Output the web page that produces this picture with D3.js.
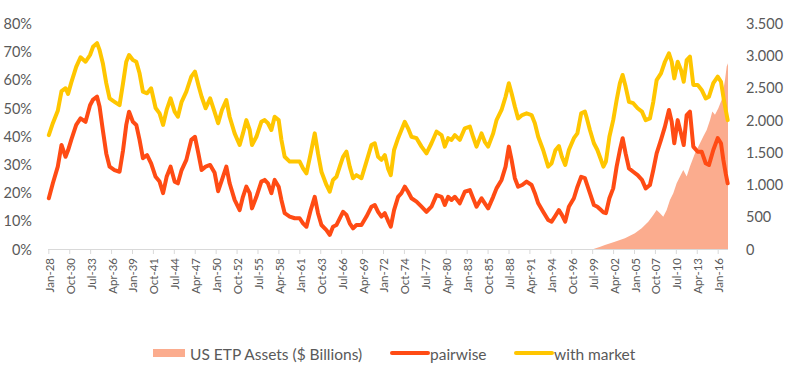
<!DOCTYPE html>
<html><head><meta charset="utf-8">
<script src="https://cdn.jsdelivr.net/npm/d3@7"></script>
<style>
body{margin:0;background:#fff;}
svg text{font-family:Lato,"Open Sans",sans-serif;fill:#595959;}
</style>
</head><body>
<svg id="chart" width="787" height="380"></svg>
<script>
// ---- data ----
const years = [1928.0,1928.53,1929.18,1929.67,1930.2,1930.53,1930.95,1931.6,1932.17,1932.83,
1933.42,1933.82,1934.34,1934.67,1935.1,1935.55,1935.99,1936.64,1937.3,1937.76,
1938.18,1938.55,1939.05,1939.5,1939.93,1940.37,1940.92,1941.45,1942.04,1942.56,
1943.02,1943.49,1944.01,1944.54,1944.97,1945.46,1946.08,1946.73,1947.21,1947.66,
1948.09,1948.62,1949.21,1949.8,1950.26,1950.76,1951.34,1951.77,1952.43,1953.09,
1953.52,1953.97,1954.41,1954.71,1955.29,1955.94,1956.38,1956.81,1957.26,1957.69,
1958.22,1958.58,1959.01,1959.67,1960.33,1960.98,1961.42,1961.87,1962.43,1962.96,
1963.39,1963.84,1964.5,1964.93,1965.36,1965.81,1966.25,1966.68,1967.13,1967.56,
1968.0,1968.44,1969.1,1969.76,1970.42,1970.85,1971.29,1971.73,1972.17,1972.6,
1972.96,1973.39,1973.92,1974.36,1974.8,1975.23,1975.68,1976.34,1977.0,1977.65,
1978.31,1978.97,1979.63,1980.06,1980.5,1980.94,1981.38,1982.03,1982.69,1983.35,
1983.78,1984.23,1984.89,1985.32,1985.76,1986.42,1986.86,1987.52,1988.05,1988.48,
1988.84,1989.27,1989.7,1990.23,1990.81,1991.47,1991.9,1992.34,1992.99,1993.65,
1994.1,1994.6,1995.06,1995.45,1995.89,1996.37,1997.03,1997.49,1997.99,1998.48,
1998.74,1999.14,1999.66,2000.12,2000.52,2000.91,2001.24,2001.7,2002.2,2002.65,
2003.08,2003.44,2003.83,2004.27,2004.83,2005.41,2005.98,2006.47,2007.03,2007.47,
2007.91,2008.48,2009.0,2009.53,2009.89,2010.23,2010.68,2011.11,2011.47,2011.86,
2012.29,2012.73,2013.31,2013.83,2014.36,2014.79,2015.36,2015.94,2016.37,2016.68,
2016.99,2017.25];

const withMarket = [40.4,44.6,49,56,57,55,59,64.6,68,66.4,
68.8,71.7,73,70.6,65.9,58.8,53.4,52.2,51,58.8,
66.4,68.8,67,66.4,62.3,55.8,55.2,57,50,48.1,
44,49.3,53.4,48.7,46.9,52.2,55.8,61.1,62.9,58.2,
54,49.9,53.4,48.5,44.6,49.3,52.8,46.9,41,36.9,
41,45.7,42.2,36.9,39.8,45.1,45.7,44.6,42.2,46.9,
45.7,38.7,32.7,31,31,31,28.6,26.8,33.9,41,
33.9,27.4,22.7,20.3,24.5,25.6,29.2,32.7,34.5,29.2,
25.1,26.2,25.1,31,36.9,37.5,32.7,31.6,33.3,28.5,
26.2,35.1,39.3,42.2,45.1,42.8,39.8,39.3,36.3,33.9,
37.5,41.6,40.4,36.3,39.3,38.7,40.4,38.7,42.8,43.4,
39.8,36.3,41,38,36.3,41,45.7,49.3,54,58.8,
55.2,50.5,46.3,47.5,48.1,47.5,44.6,39.8,35.1,29.2,
30.4,35,36.5,32.7,29.8,35.1,39.3,41,48.1,48.7,
46.3,42.2,37.5,35.1,32.2,29.2,31,39.8,45.7,52.8,
58.8,61.7,57.6,52.2,51.7,49.9,48.7,45.7,46.3,52.2,
59.9,62.3,66.4,69.4,66.4,60.5,66.4,63.5,59.3,67,
68.2,58.2,58.2,56.4,53.4,54,58.8,61.1,59.3,54,
49.3,45.7];

const pairwise = [18,23.3,29.2,36.9,32.7,35,38.7,44,46.3,45.1,
51,53,54,50.5,42.2,33.9,29.2,28,27.4,35,
44,48.7,45.1,44,38.7,32.2,33.3,30.4,25.6,23.9,
19.8,25.6,29.2,23.9,23.3,28,31.6,38.7,39.8,33.9,
28,29.2,29.8,27,20.5,24.5,29.2,23.3,17.4,13.8,
18.5,22.1,19.8,14.4,18.5,23.9,24.5,23.3,19.8,24.5,
22.1,17.4,12.7,11.5,10.9,10.9,9.1,7.9,13.8,18.5,
12.7,8.5,6.7,5,7.9,8.5,10.9,13.2,12.1,9.1,
7.3,8.5,8.5,11.5,15,15.6,13.2,11.5,12.7,10,
7.9,13.8,18.5,19.8,22.1,20.3,18,16.8,15,13.2,
15,19.1,18.5,15.6,18.5,17.4,18.5,16.2,20.3,20.9,
18,15,18,16.2,14.4,18.5,21.5,24.5,29.2,36.3,
31.6,25.1,22.1,22.7,23.9,22.7,19.8,16.2,13.2,10.3,
9.7,11.8,13.8,12.1,9.7,15,18,22,25.6,25.1,
23,19.8,15.6,15,14,13,12.7,18,21.5,29.2,
35.1,39.3,33.9,28.6,27.4,26.2,24.5,21.5,22.7,28,
33.9,38.7,43.4,49.3,45.1,37.5,45.7,41,36.9,47.5,
48.7,36.3,34.5,34.5,30.4,29.8,35.1,39.3,37.5,31.6,
26.8,23.3];

const etpYears = [1999.6,2000.5,2001.11,2002.42,2003.74,2005.05,2005.94,2006.81,2007.47,2007.91,
2008.35,2008.78,2009.23,2009.66,2010.1,2010.54,2010.98,2011.41,2011.86,2012.29,
2012.95,2013.61,2014.04,2014.49,2014.93,2015.23,2015.58,2016.02,2016.46,2016.9,
2017.12,2017.29];
const etpAssets = [0,35,62,113,166,243,321,424,528,606,
554,502,606,761,865,1020,1123,1227,1123,1278,
1486,1641,1744,1848,2003,2132,2081,2185,2314,2624,
2831,2883];

const xTickLabels = ["Jan-28","Oct-30","Jul-33","Apr-36","Jan-39","Oct-41","Jul-44","Apr-47",
"Jan-50","Oct-52","Jul-55","Apr-58","Jan-61","Oct-63","Jul-66","Apr-69","Jan-72","Oct-74",
"Jul-77","Apr-80","Jan-83","Oct-85","Jul-88","Apr-91","Jan-94","Oct-96","Jul-99","Apr-02",
"Jan-05","Oct-07","Jul-10","Apr-13","Jan-16"];
const leftTicks = [0,10,20,30,40,50,60,70,80];
const rightTicks = [0,500,1000,1500,2000,2500,3000,3500];
const legendLabels = ["US ETP Assets ($ Billions)","pairwise","with market"];

// ---- rendering ----
const svg = d3.select("#chart");
const C_AREA = "#FBAC8E", C_PAIR = "#FF4B14", C_MKT = "#FFC600", C_AXIS = "#D9D9D9";
const toMonth = y => (y - 1928) * 12;
const x = d3.scaleLinear().domain([-0.5, 1071.5]).range([48.5, 728]);
const yL = d3.scaleLinear().domain([0, 80]).range([249, 23.4]);
const yR = d3.scaleLinear().domain([0, 3500]).range([249, 23.4]);

const monthNames = ["Jan","Feb","Mar","Apr","May","Jun","Jul","Aug","Sep","Oct","Nov","Dec"];
const labelMonth = s => {
  const [m, yy] = s.split("-");
  const yr = +yy < 28 ? 2000 + +yy : 1900 + +yy;
  return (yr - 1928) * 12 + monthNames.indexOf(m);
};

// area (secondary axis)
const etp = etpYears.map((t, i) => ({t, v: etpAssets[i]}));
svg.append("path").datum(etp)
  .attr("fill", C_AREA)
  .attr("d", d3.area().x(d => x(toMonth(d.t))).y0(yR(0)).y1(d => yR(d.v)));

// x axis
const xa = svg.append("g");
xa.append("line").attr("x1", 48).attr("x2", 728).attr("y1", 249.5).attr("y2", 249.5)
  .attr("stroke", C_AXIS).attr("stroke-width", 1);
xTickLabels.forEach(lbl => {
  const px = x(labelMonth(lbl));
  xa.append("line").attr("x1", px).attr("x2", px).attr("y1", 249.5).attr("y2", 254)
    .attr("stroke", C_AXIS);
  xa.append("text").attr("transform", `translate(${px + 0.5},258) rotate(-90)`)
    .attr("text-anchor", "end").attr("dominant-baseline", "central")
    .style("font-size", "11.5px").text(lbl);
});

// left axis
svg.append("g").selectAll("text").data(leftTicks).join("text")
  .attr("x", 32).attr("y", d => yL(d)).attr("text-anchor", "end")
  .attr("dominant-baseline", "central").style("font-size", "14.5px")
  .text(d => d + "%");

// right axis
const fmt = d3.formatLocale({decimal: ",", thousands: ".", grouping: [3], currency: ["", ""]}).format(",");
svg.append("g").selectAll("text").data(rightTicks).join("text")
  .attr("x", 746).attr("y", d => yR(d)).attr("text-anchor", "start")
  .attr("dominant-baseline", "central").style("font-size", "14.5px")
  .text(d => fmt(d));

// lines
const line = d3.line().x(d => x(toMonth(d.t))).y(d => yL(d.v));
const pairData = years.map((t, i) => ({t, v: pairwise[i]}));
const mktData = years.map((t, i) => ({t, v: withMarket[i]}));
svg.append("path").datum(pairData).attr("fill", "none").attr("stroke", C_PAIR)
  .attr("stroke-width", 4).attr("stroke-linejoin", "round").attr("stroke-linecap", "round").attr("d", line);
svg.append("path").datum(mktData).attr("fill", "none").attr("stroke", C_MKT)
  .attr("stroke-width", 4).attr("stroke-linejoin", "round").attr("stroke-linecap", "round").attr("d", line);

// legend
const lg = svg.append("g");
lg.append("rect").attr("x", 153).attr("y", 349).attr("width", 32).attr("height", 8).attr("fill", C_AREA);
lg.append("text").attr("x", 190).attr("y", 353.5).attr("dominant-baseline", "central")
  .style("font-size", "15.5px").text(legendLabels[0]);
lg.append("line").attr("x1", 392).attr("x2", 428).attr("y1", 353).attr("y2", 353)
  .attr("stroke", C_PAIR).attr("stroke-width", 4).attr("stroke-linecap", "round");
lg.append("text").attr("x", 430).attr("y", 353.5).attr("dominant-baseline", "central")
  .style("font-size", "15.5px").text(legendLabels[1]);
lg.append("line").attr("x1", 516).attr("x2", 552).attr("y1", 353).attr("y2", 353)
  .attr("stroke", C_MKT).attr("stroke-width", 4).attr("stroke-linecap", "round");
lg.append("text").attr("x", 554).attr("y", 353.5).attr("dominant-baseline", "central")
  .style("font-size", "15.5px").text(legendLabels[2]);
</script>
</body></html>
